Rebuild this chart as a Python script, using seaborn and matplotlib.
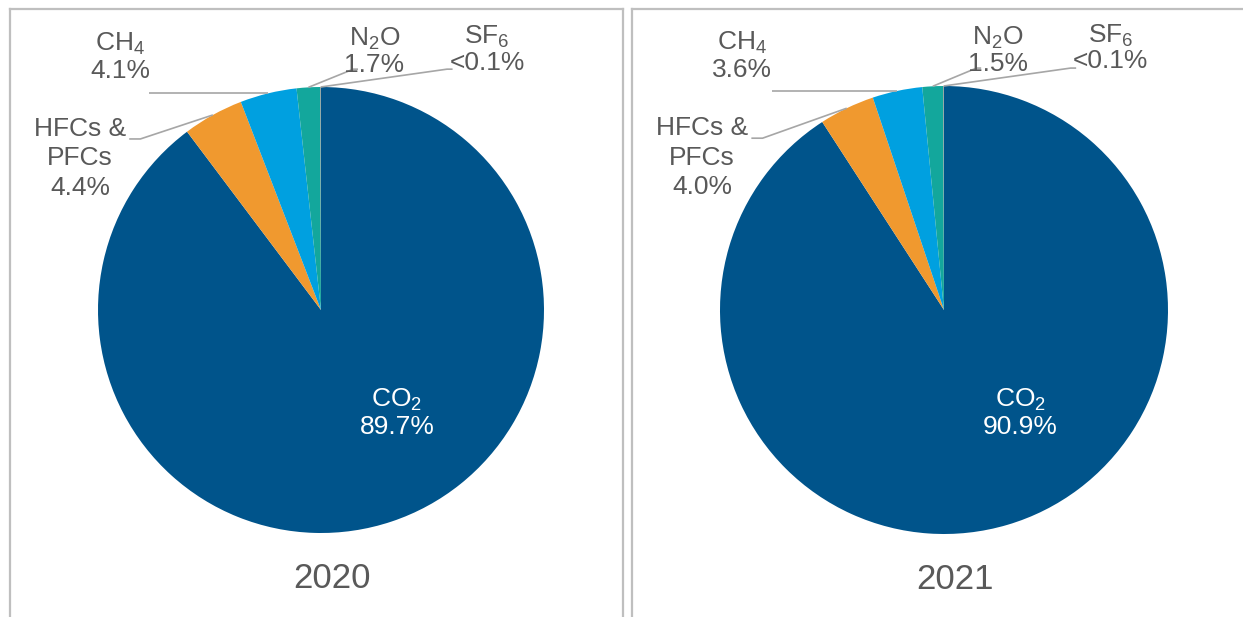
import numpy as np
import matplotlib.pyplot as plt
import seaborn as sns

# shares of total emissions (%), clockwise from 12 o'clock
years = ["2020", "2021"]
gas_names = ["CO$\\mathregular{_2}$", "HFCs &\nPFCs", "CH$\\mathregular{_4}$",
             "N$\\mathregular{_2}$O", "SF$\\mathregular{_6}$"]
share_2020 = [89.7, 4.4, 4.1, 1.7, 0.05]
share_2021 = [90.9, 4.0, 3.6, 1.5, 0.05]
pct_2020 = ["89.7%", "4.4%", "4.1%", "1.7%", "<0.1%"]
pct_2021 = ["90.9%", "4.0%", "3.6%", "1.5%", "<0.1%"]
colors = ["#00548B", "#F0992F", "#00A0E0", "#13A79C", "#8C8C8C"]

sns.set_theme(style="white")
plt.rcParams["font.family"] = ["Liberation Sans", "DejaVu Sans"]
txt_col = "#595959"
line_col = "#A6A6A6"
border_col = "#BFBFBF"

W, H = 1243, 617
fig = plt.figure(figsize=(W / 100, H / 100), dpi=100)

# panel box (px) and pie centre / radius (px)
panels = [dict(x0=10, x1=623, cx=321, cy=310, r=223),
          dict(x0=632, x1=1243, cx=944, cy=310, r=224)]
top = 9

# label positions in radius units
text_pos = [(0.34, -0.46), (-1.08, 0.68), (-0.90, 1.135), (0.24, 1.16), (0.745, 1.17)]
spacing = [1.1, 1.3, 1.1, 1.05, 1.05]
elbows = [None, [(-0.81, 0.767), (-0.86, 0.767)], "h", [(0.145, 1.08), (0.166, 1.08)],
          [(0.565, 1.08), (0.59, 1.08)]]

for p, year, shares, pcts in zip(panels, years, [share_2020, share_2021], [pct_2020, pct_2021]):
    ax = fig.add_axes([p["x0"] / W, 0, (p["x1"] - p["x0"]) / W, (H - top) / H])
    wedges, _ = ax.pie(shares, colors=colors, startangle=90, counterclock=False,
                       wedgeprops=dict(linewidth=0))
    r = p["r"]
    ax.set_xlim((p["x0"] - p["cx"]) / r, (p["x1"] - p["cx"]) / r)
    ax.set_ylim((p["cy"] - H) / r, (p["cy"] - top) / r)
    ax.set_aspect("equal", adjustable="box")
    ax.set_frame_on(True)
    for side, sp in ax.spines.items():
        sp.set_color(border_col)
        sp.set_linewidth(1.6)
        sp.set_visible(side != "bottom" and not (side == "right" and p["x1"] >= W))
    ax.set_xticks([])
    ax.set_yticks([])

    for i, w in enumerate(wedges):
        ang = np.deg2rad((w.theta1 + w.theta2) / 2)
        ex, ey = np.cos(ang), np.sin(ang)
        tx, ty = text_pos[i]
        col = "white" if i == 0 else txt_col
        ax.text(tx, ty, gas_names[i] + "\n" + pcts[i], ha="center", va="center",
                fontsize=19, color=col, linespacing=spacing[i])
        if elbows[i] is None:
            continue
        if elbows[i] == "h":
            pts = [(ex, ey), (-0.77, ey)]
        else:
            pts = [(ex, ey)] + elbows[i]
        xs, ys = zip(*pts)
        ax.plot(xs, ys, color=line_col, lw=1.2, solid_capstyle="butt")

    ax.text(0.05, -1.205, year, ha="center", va="center", fontsize=25, color=txt_col)

fig.savefig("out.png", dpi=100, facecolor="white")
